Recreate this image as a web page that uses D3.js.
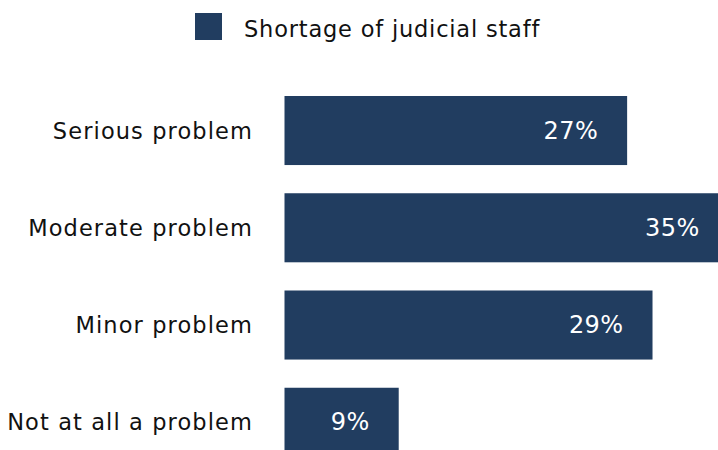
<!DOCTYPE html>
<html>
<head>
<meta charset="utf-8">
<script src="https://cdn.jsdelivr.net/npm/d3@7"></script>
<style>
  html, body { margin: 0; padding: 0; background: #ffffff; }
  svg { display: block; font-family: "DejaVu Sans", "Noto Sans", sans-serif; }
</style>
</head>
<body>
<svg id="chart" width="718" height="450"></svg>
<script>
// Survey responses: how serious is the shortage of judicial staff
const categories = ["Serious problem", "Moderate problem", "Minor problem", "Not at all a problem"];
const values = [27, 35, 29, 9];
const seriesName = "Shortage of judicial staff";

const barColor = "#213d60";
const svg = d3.select("#chart");

// Bars start at x≈284.5; 1 percentage point ≈ 12.7 px
const x = d3.scaleLinear().domain([0, 100]).range([284.5, 284.5 + 1269]);
const y = d3.scaleBand().domain(categories).range([81.9, 470.9]).paddingInner(0.29).paddingOuter(0.145);

// Legend
const legend = svg.append("g");
legend.append("rect")
  .attr("x", 195).attr("y", 13).attr("width", 27).attr("height", 27)
  .attr("fill", barColor);
legend.append("text")
  .attr("x", 244).attr("y", 29)
  .attr("dominant-baseline", "central")
  .attr("font-size", 22.5)
  .attr("letter-spacing", 0.8)
  .attr("fill", "#111")
  .text(seriesName);

// Bars
svg.append("g").selectAll("rect")
  .data(categories)
  .join("rect")
  .attr("x", x(0))
  .attr("y", d => y(d))
  .attr("width", (d, i) => x(values[i]) - x(0))
  .attr("height", y.bandwidth())
  .attr("fill", barColor);

// Value labels inside the bar ends
svg.append("g").selectAll("text")
  .data(categories)
  .join("text")
  .attr("x", (d, i) => x(values[i]) - 29)
  .attr("y", d => y(d) + y.bandwidth() / 2)
  .attr("text-anchor", "end")
  .attr("dominant-baseline", "central")
  .attr("font-size", 24)
  .attr("letter-spacing", 0.4)
  .attr("fill", "#ffffff")
  .text((d, i) => values[i] + "%");

// Category axis labels
svg.append("g").selectAll("text")
  .data(categories)
  .join("text")
  .attr("x", 253)
  .attr("y", d => y(d) + y.bandwidth() / 2)
  .attr("text-anchor", "end")
  .attr("dominant-baseline", "central")
  .attr("font-size", 22.5)
  .attr("letter-spacing", 1.1)
  .attr("fill", "#111")
  .text(d => d);
</script>
</body>
</html>
